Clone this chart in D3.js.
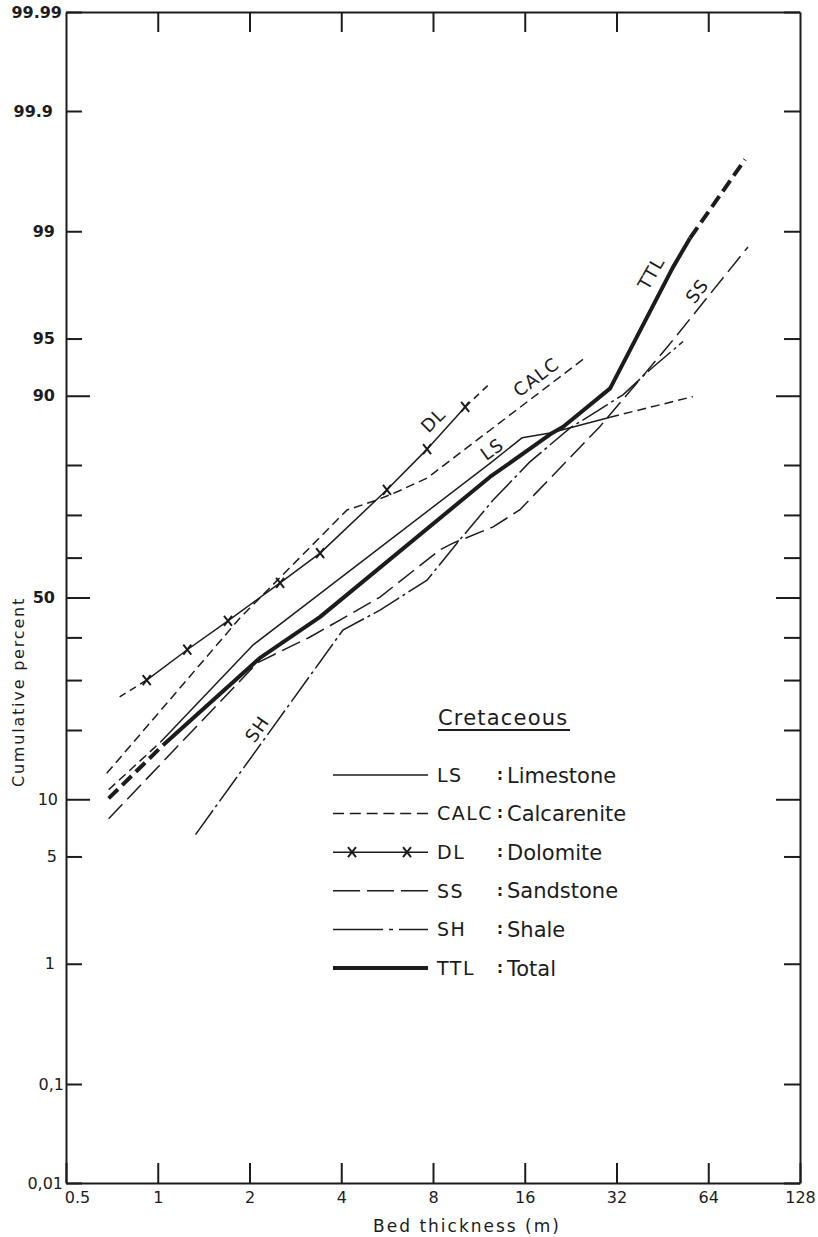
<!DOCTYPE html>
<html>
<head>
<meta charset="utf-8">
<script src="https://cdnjs.cloudflare.com/ajax/libs/d3/7.8.5/d3.min.js"></script>
<style>
  body { margin: 0; background: #fff; }
  svg { display: block; font-family: "DejaVu Sans", sans-serif; }
</style>
</head>
<body>
<div id="chart"></div>
<script>
// bed thickness (m) / cumulative percent
var lsThick = [0.69, 1.02, 2.05, 12.3, 15.7, 19.4, 30.5, 57.0];
var lsPct   = [11.1, 17.9, 38.1, 80.3, 84.5, 85.2, 87.4, 89.9];

var calcThick = [0.68, 1.86, 4.18, 5.24, 6.10, 7.65, 12.3, 25.2];
var calcPct   = [13.2, 44.8, 71.1, 73.2, 74.9, 77.6, 85.6, 93.6];

var dlThick = [0.75, 0.92, 1.25, 1.70, 2.52, 3.41, 5.65, 7.65, 10.2, 12.3];
var dlPct   = [26.4, 30.0, 37.0, 44.1, 53.7, 61.1, 75.3, 82.7, 88.7, 91.3];

var ssThick = [0.69, 2.12, 3.16, 3.96, 5.36, 8.43, 9.31, 12.6, 15.4, 28.2, 46.9, 86.4];
var ssPct   = [8.0, 33.9, 40.1, 44.3, 50.1, 61.9, 63.5, 67.3, 71.1, 86.1, 94.4, 98.7];

var shThick = [1.33, 4.05, 5.36, 7.65, 9.59, 12.6, 16.6, 22.5, 33.6, 41.2, 52.9];
var shPct   = [6.6, 41.8, 46.8, 54.4, 63.5, 73.2, 80.5, 85.9, 90.1, 92.6, 94.8];

var ttlThick = [0.69, 1.04, 2.16, 3.41, 12.3, 19.7, 21.4, 30.5, 49.0, 55.8, 84.5];
var ttlPct   = [10.1, 17.4, 35.0, 45.1, 77.8, 85.2, 86.1, 90.8, 98.2, 98.88, 99.73];

var xTicks = [0.5, 1, 2, 4, 8, 16, 32, 64, 128];
var xTickLabels = ["0.5", "1", "2", "4", "8", "16", "32", "64", "128"];
var yTicks = [0.01, 0.1, 1, 5, 10, 20, 30, 40, 50, 60, 70, 80, 90, 95, 99, 99.9, 99.99];
var yTickLabels = ["0,01", "0,1", "1", "5", "10", "", "", "", "50", "", "", "", "90", "95", "99", "99.9", "99.99"];

var legendCodes = ["LS", "CALC", "DL", "SS", "SH", "TTL"];
var legendNames = ["Limestone", "Calcarenite", "Dolomite", "Sandstone", "Shale", "Total"];
var legendTitle = "Cretaceous";

// inverse normal cdf (Acklam)
function probit(p) {
  var a = [-3.969683028665376e+01, 2.209460984245205e+02, -2.759285104469687e+02, 1.383577518672690e+02, -3.066479806614716e+01, 2.506628277459239e+00];
  var b = [-5.447609879822406e+01, 1.615858368580409e+02, -1.556989798598866e+02, 6.680131188771972e+01, -1.328068155288572e+01];
  var c = [-7.784894002430293e-03, -3.223964580411365e-01, -2.400758277161838e+00, -2.549732539343734e+00, 4.374664141464968e+00, 2.938163982698783e+00];
  var d = [7.784695709041462e-03, 3.224671290700398e-01, 2.445134137142996e+00, 3.754408661907416e+00];
  var q, r;
  if (p < 0.02425) {
    q = Math.sqrt(-2 * Math.log(p));
    return (((((c[0]*q + c[1])*q + c[2])*q + c[3])*q + c[4])*q + c[5]) / ((((d[0]*q + d[1])*q + d[2])*q + d[3])*q + 1);
  }
  if (p > 1 - 0.02425) {
    q = Math.sqrt(-2 * Math.log(1 - p));
    return -(((((c[0]*q + c[1])*q + c[2])*q + c[3])*q + c[4])*q + c[5]) / ((((d[0]*q + d[1])*q + d[2])*q + d[3])*q + 1);
  }
  q = p - 0.5;
  r = q * q;
  return (((((a[0]*r + a[1])*r + a[2])*r + a[3])*r + a[4])*r + a[5])*q / (((((b[0]*r + b[1])*r + b[2])*r + b[3])*r + b[4])*r + 1);
}

(function() {
  var width = 818, height = 1237;
  var left = 66, right = 800, top = 12, bottom = 1183;
  var ink = "#1c1c1c";

  var svg = d3.select("#chart")
    .append("svg")
    .attr("width", width)
    .attr("height", height);

  svg.append("rect").attr("width", width).attr("height", height).attr("fill", "#fff");

  var x = d3.scaleLog().base(2).domain([0.5, 128]).range([left, right]);

  var z = d3.scaleLinear()
    .domain([probit(0.0001), probit(0.9999)])
    .range([bottom, top]);

  // probability paper: percent -> normal score -> pixels
  function probScale() {
    var s = function(p) { return z(probit(p / 100)); };
    s.domain = function() { return [0.01, 99.99]; };
    s.range = function() { return z.range(); };
    s.copy = probScale;
    return s;
  }
  var y = probScale();

  var bigTicks = [10, 50, 90];

  // ---- axes ----
  var gLeft = svg.append("g")
    .attr("transform", "translate(" + left + ",0)")
    .call(d3.axisLeft(y).tickValues(yTicks).tickSize(-16).tickSizeOuter(0).tickPadding(11)
      .tickFormat(function(d) { return yTickLabels[yTicks.indexOf(d)]; }));
  gLeft.selectAll(".tick line").attr("x2", function(d) { return bigTicks.indexOf(d) >= 0 ? 24 : 16; });
  gLeft.selectAll(".tick text")
    .attr("font-weight", function(d) { return d >= 50 ? "bold" : "normal"; })
    .attr("x", function(d) {
      if (d == 99.99) return -4;
      if (d == 99.9) return -13;
      if (d == 0.1) return -2;
      if (d == 0.01) return -3;
      if (d == 10) return -8;
      if (d == 5) return -9;
      return -11;
    });

  var gRight = svg.append("g")
    .attr("transform", "translate(" + right + ",0)")
    .call(d3.axisRight(y).tickValues(yTicks).tickSize(-16).tickSizeOuter(0).tickFormat(""));
  gRight.selectAll(".tick line").attr("x2", function(d) { return bigTicks.indexOf(d) >= 0 ? -24 : -16; });

  var gBottom = svg.append("g")
    .attr("transform", "translate(0," + bottom + ")")
    .call(d3.axisBottom(x).tickValues(xTicks).tickSize(-20).tickSizeOuter(0).tickPadding(9)
      .tickFormat(function(d) { return xTickLabels[xTicks.indexOf(d)]; }));
  gBottom.selectAll(".tick text").attr("x", function(d) { return d == 0.5 ? 11 : 0; });

  svg.append("g")
    .attr("transform", "translate(0," + top + ")")
    .call(d3.axisTop(x).tickValues(xTicks.slice(1, -1)).tickSize(-20).tickSizeOuter(0).tickFormat(""));

  svg.selectAll(".domain, .tick line").attr("stroke", ink).attr("stroke-width", 2);
  svg.selectAll(".tick text").attr("fill", ink).style("font-size", "16px").style("font-family", "'DejaVu Sans', sans-serif");

  svg.append("text")
    .attr("transform", "translate(24,692) rotate(-90)")
    .attr("text-anchor", "middle")
    .attr("fill", ink)
    .style("font-size", "16px")
    .style("letter-spacing", "1.8px")
    .text("Cumulative percent");

  svg.append("text")
    .attr("x", 467).attr("y", 1232)
    .attr("text-anchor", "middle")
    .attr("fill", ink)
    .style("font-size", "17px")
    .style("letter-spacing", "2px")
    .text("Bed thickness (m)");

  // ---- curves ----
  var line = d3.line()
    .x(function(d) { return x(d[0]); })
    .y(function(d) { return y(d[1]); });

  var series = [
    { t: lsThick, p: lsPct, w: 1.5, dash: null, from: 1, to: 6, endDash: "9,5" },
    { t: calcThick, p: calcPct, w: 1.5, dash: "9,5" },
    { t: dlThick, p: dlPct, w: 1.5, dash: null, from: 1, to: 8, endDash: "7,5", marks: true },
    { t: ssThick, p: ssPct, w: 1.5, dash: "20,7" },
    { t: shThick, p: shPct, w: 1.5, dash: "30,4,3,4" },
    { t: ttlThick, p: ttlPct, w: 4, dash: null, from: 1, to: 9, endDash: "13,6" }
  ];

  var curves = svg.append("g").attr("fill", "none").attr("stroke", ink);

  series.forEach(function(s) {
    var pts = s.t.map(function(t, i) { return [t, s.p[i]]; });
    if (s.from == null) {
      curves.append("path").attr("d", line(pts))
        .attr("stroke-width", s.w).attr("stroke-dasharray", s.dash);
      return;
    }
    // extrapolated ends drawn dashed
    curves.append("path").attr("d", line(pts.slice(0, s.from + 1)))
      .attr("stroke-width", s.w).attr("stroke-dasharray", s.endDash);
    curves.append("path").attr("d", line(pts.slice(s.from, s.to + 1)))
      .attr("stroke-width", s.w).attr("stroke-linejoin", "round");
    curves.append("path").attr("d", line(pts.slice(s.to)))
      .attr("stroke-width", s.w).attr("stroke-dasharray", s.endDash);

    if (s.marks) {
      curves.selectAll(".xmark")
        .data(pts.slice(s.from, s.to + 1))
        .enter().append("path")
        .attr("transform", function(d) { return "translate(" + x(d[0]) + "," + y(d[1]) + ")"; })
        .attr("d", "M-4,-5L4,5M-4,5L4,-5")
        .attr("stroke-width", 2);
    }
  });

  // labels along the curves
  var tags = [
    { code: "LS", cx: 492, cy: 449, rot: -36 },
    { code: "CALC", cx: 536, cy: 377, rot: -37 },
    { code: "DL", cx: 433, cy: 420, rot: -45 },
    { code: "SS", cx: 697, cy: 291, rot: -52 },
    { code: "SH", cx: 257, cy: 729, rot: -55 },
    { code: "TTL", cx: 651, cy: 273, rot: -60 }
  ];
  svg.selectAll(".tag")
    .data(tags)
    .enter().append("text")
    .attr("class", "tag")
    .attr("transform", function(d) { return "translate(" + d.cx + "," + d.cy + ") rotate(" + d.rot + ")"; })
    .attr("text-anchor", "middle")
    .attr("dy", "0.36em")
    .attr("fill", ink)
    .style("font-size", "18px")
    .style("letter-spacing", "1px")
    .text(function(d) { return legendCodes.indexOf(d.code) >= 0 ? d.code : ""; });

  // ---- legend ----
  var legend = svg.append("g");
  var rowY = d3.scaleLinear().domain([0, 5]).range([775, 968]);

  legend.append("text")
    .attr("x", 438).attr("y", 725)
    .attr("fill", ink)
    .style("font-size", "21px")
    .style("letter-spacing", "1.2px")
    .text(legendTitle);
  legend.append("line")
    .attr("x1", 438).attr("x2", 570).attr("y1", 730).attr("y2", 730)
    .attr("stroke", ink).attr("stroke-width", 2);

  var rows = legend.selectAll(".row")
    .data(legendCodes)
    .enter().append("g")
    .attr("transform", function(d, i) { return "translate(0," + rowY(i) + ")"; });

  rows.append("line")
    .attr("x1", 333).attr("x2", 428)
    .attr("stroke", ink)
    .attr("stroke-width", function(d, i) { return series[i].w; })
    .attr("stroke-dasharray", function(d, i) {
      return ["none", "11,5.8", "none", "27,7", "50,6,4,6", "none"][i];
    });

  rows.filter(function(d) { return d == "DL"; })
    .selectAll(".xmark")
    .data([352, 407])
    .enter().append("path")
    .attr("transform", function(d) { return "translate(" + d + ",0)"; })
    .attr("d", "M-4,-5L4,5M-4,5L4,-5")
    .attr("stroke", ink).attr("stroke-width", 2);

  rows.append("text")
    .attr("x", 437).attr("dy", "0.36em")
    .attr("fill", ink)
    .style("font-size", "19px")
    .style("letter-spacing", "1.5px")
    .text(function(d) { return d; });

  rows.append("text")
    .attr("x", 497).attr("dy", "0.32em")
    .attr("fill", ink)
    .attr("font-weight", "bold")
    .style("font-size", "15px")
    .text(":");

  rows.append("text")
    .attr("x", 507).attr("dy", "0.36em")
    .attr("fill", ink)
    .style("font-size", "21px")
    .text(function(d, i) { return legendNames[i]; });
})();
</script>
</body>
</html>
